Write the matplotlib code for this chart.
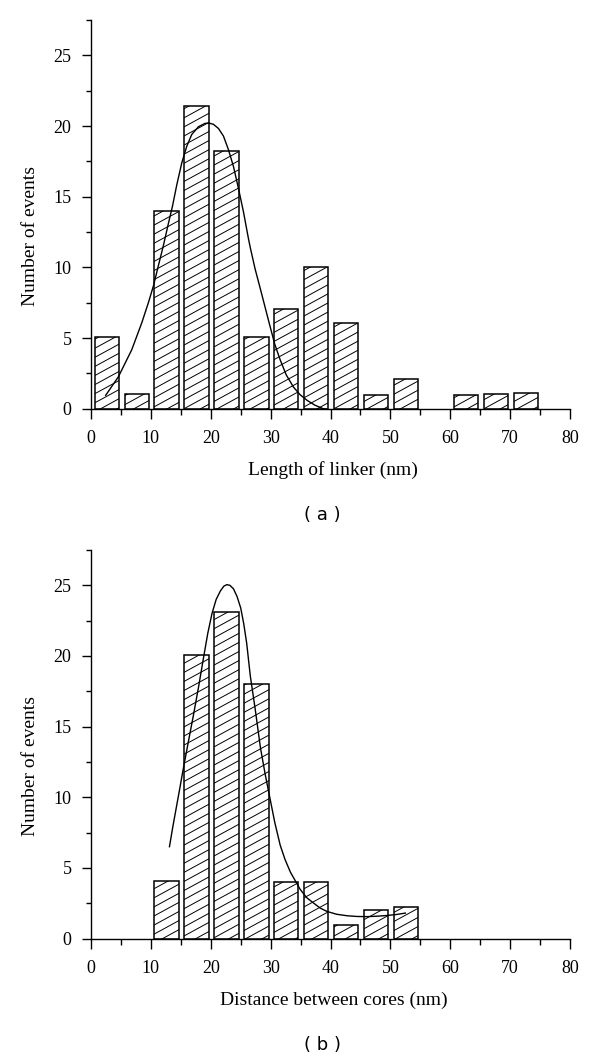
import matplotlib
matplotlib.use("Agg")
import matplotlib.pyplot as plt
import matplotlib.hatch as mhatch
from matplotlib.path import Path
from matplotlib.ticker import MultipleLocator
import numpy as np

plt.rcParams['font.family'] = ['Liberation Serif', 'DejaVu Serif']
plt.rcParams['hatch.linewidth'] = 0.7
plt.rcParams['axes.linewidth'] = 1.0

# (a) length of linker, 5 nm bins (55-60 is empty)
bins_a = [0, 5, 10, 15, 20, 25, 30, 35, 40, 45, 50, 60, 65, 70]
counts_a = [5.1, 1.05, 14.0, 21.4, 18.2, 5.05, 7.05, 10.05, 6.1, 0.97, 2.08, 0.96, 1.05, 1.13]
fit_x_a = [2.45, 4.57, 6.8, 8.47, 9.58, 10.42, 11.25, 12.09, 12.92, 13.59, 14.32, 15.15,
           15.99, 16.82, 17.94, 19.05, 19.72, 20.45, 21.28, 22.12, 22.95, 23.79, 24.62,
           25.46, 26.3, 26.6, 27.4, 28.3, 29.9, 30.7, 31.6, 32.6, 33.8, 34.9, 36.1, 37.4,
           38.8, 40.2, 41.6, 43.0, 44.4, 45.6, 46.7]
fit_y_a = [0.95, 2.26, 4.17, 6.07, 7.5, 8.69, 10.12, 11.55, 13.1, 14.3, 15.83, 17.38,
           18.57, 19.4, 19.95, 20.19, 20.21, 20.12, 19.83, 19.29, 18.33, 17.14, 15.6,
           13.93, 12.02, 11.4, 9.9, 8.45, 5.83, 4.55, 3.45, 2.4, 1.54, 1.0, 0.59, 0.25,
           0.0, -0.15, -0.24, -0.28, -0.29, -0.25, -0.17]

# (b) distance between cores
bins_b = [10, 15, 20, 25, 30, 35, 40, 45, 50]
counts_b = [4.1, 20.05, 23.1, 18.05, 4.0, 4.0, 0.97, 2.03, 2.2]
fit_x_b = [13.1, 13.7, 14.3, 14.9, 15.4, 16.2, 17.1, 18.0, 18.8, 19.5, 20.2, 20.9, 21.6,
           22.2, 22.7, 23.2, 23.8, 24.4, 25.0, 25.5, 26.0, 26.6, 27.4, 28.3, 29.1, 29.9,
           30.7, 31.6, 32.4, 33.3, 34.9, 36.0, 37.2, 38.3, 39.4, 41.0, 42.8, 44.5, 46.1,
           47.8, 49.4, 51.0, 52.5]
fit_y_b = [6.5, 8.0, 9.4, 10.8, 12.0, 13.8, 15.8, 17.9, 19.9, 21.6, 23.0, 24.0, 24.6,
           24.95, 25.05, 25.0, 24.75, 24.2, 23.4, 22.3, 20.9, 18.6, 16.3, 13.5, 11.6, 9.9,
           8.2, 6.6, 5.6, 4.7, 3.5, 2.9, 2.5, 2.15, 1.92, 1.72, 1.61, 1.56, 1.55, 1.58,
           1.63, 1.7, 1.8]


class ShallowHatch(mhatch.HatchPatternBase):
    # '/' hatch, but flatter (slope 6/11) like the original figure
    def __init__(self, hatch, density):
        self.ks = list(range(-9, 15)) if '/' in hatch else []
        self.num_vertices = 2 * len(self.ks)

    def set_vertices_and_codes(self, vertices, codes):
        for i, k in enumerate(self.ks):
            vertices[2 * i] = (-0.5, (k - 3) / 11)
            vertices[2 * i + 1] = (1.5, (k + 9) / 11)
            codes[2 * i] = Path.MOVETO
            codes[2 * i + 1] = Path.LINETO


mhatch._hatch_types = [ShallowHatch if c is mhatch.NorthEastHatch else c
                       for c in mhatch._hatch_types]

fig = plt.figure(figsize=(6, 10.6), dpi=100)


def panel(rect, bins, counts, fx, fy, xlabel, tag, tag_y):
    ax = fig.add_axes(rect)
    ax.bar([b + 0.6 for b in bins], counts, width=4.05, align='edge',
           facecolor='white', edgecolor='black', linewidth=1.1, hatch='/')
    ax.plot(fx, fy, color='black', linewidth=1.0)
    ax.set_xlim(0, 80)
    ax.set_ylim(0, 27.5)
    ax.spines['top'].set_visible(False)
    ax.spines['right'].set_visible(False)
    ax.xaxis.set_major_locator(MultipleLocator(10))
    ax.xaxis.set_minor_locator(MultipleLocator(5))
    ax.yaxis.set_major_locator(MultipleLocator(5))
    ax.yaxis.set_minor_locator(MultipleLocator(2.5))
    ax.tick_params(axis='x', which='major', length=7.5, width=1.0, pad=8, labelsize=13)
    ax.tick_params(axis='x', which='minor', length=4.3, width=1.0)
    ax.tick_params(axis='y', which='major', length=6.5, width=1.0, pad=7.5, labelsize=13)
    ax.tick_params(axis='y', which='minor', length=3.6, width=1.0)
    ax.set_xlabel(xlabel, fontsize=14, va='baseline')
    ax.xaxis.set_label_coords(0.506, -0.171)
    ax.set_ylabel('Number of events', fontsize=14, va='center')
    ax.yaxis.set_label_coords(-0.1257, 0.445)
    fig.text(0.537, tag_y, tag, ha='center', va='center',
             fontsize=13, family='DejaVu Sans')
    return ax


panel([0.1517, 0.6144, 0.7983, 0.3667], bins_a, counts_a, fit_x_a, fit_y_a,
      'Length of linker (nm)', '( a )', 1 - 515 / 1060)
panel([0.1517, 0.1146, 0.7983, 0.3665], bins_b, counts_b, fit_x_b, fit_y_b,
      'Distance between cores (nm)', '( b )', 1 - 1045 / 1060)

fig.savefig('out.png', dpi=100)
